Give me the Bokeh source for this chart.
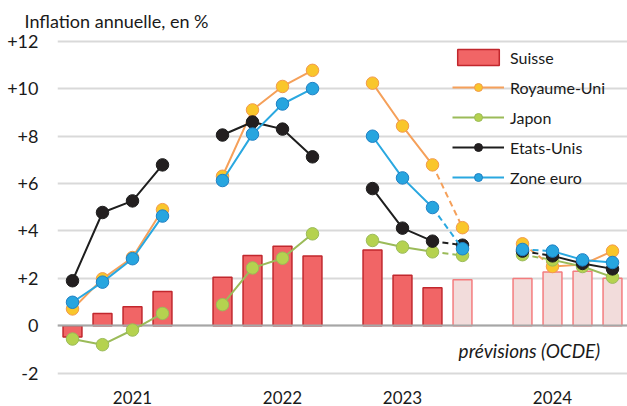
import numpy as np
from bokeh.plotting import figure
from bokeh.models import Range1d, FixedTicker, Legend, LegendItem, Label
from bokeh.embed import file_html
from bokeh.resources import INLINE

# ---------------- data ----------------
years = ["2021", "2022", "2023", "2024"]
year_label_slots = [2, 7, 11, 16]
y_ticks = [-2, 0, 2, 4, 6, 8, 10, 12]
y_tick_labels = ["-2", "0", "+2", "+4", "+6", "+8", "+10", "+12"]
n_actual = 11  # quarters observed; the rest are OECD forecasts

suisse = [-0.47, 0.52, 0.80, 1.45, 2.05, 2.97, 3.36, 2.94, 3.20, 2.13, 1.60, 1.94, 1.99, 2.27, 2.30, 2.00]
royaume_uni = [0.71, 1.98, 2.88, 4.90, 6.31, 9.11, 10.10, 10.78, 10.24, 8.43, 6.79, 4.14, 3.46, 2.50, 2.58, 3.15]
japon = [-0.56, -0.80, -0.18, 0.52, 0.89, 2.44, 2.85, 3.88, 3.60, 3.32, 3.12, 2.97, 3.00, 2.78, 2.50, 2.05]
etats_unis = [1.90, 4.78, 5.27, 6.79, 8.05, 8.60, 8.30, 7.13, 5.79, 4.12, 3.57, 3.40, 3.15, 2.95, 2.63, 2.40]
zone_euro = [0.99, 1.84, 2.83, 4.63, 6.13, 8.09, 9.36, 10.01, 8.00, 6.24, 4.99, 3.25, 3.22, 3.15, 2.78, 2.67]

solid_segments = [[0, 1, 2, 3], [4, 5, 6, 7], [8, 9, 10], [13, 14, 15]]
dashed_segments = [[10, 11], [12, 13]]

FONT = "Lato"
TXT = "#1a1a1a"

# quarter index -> slot on the x axis (one empty slot between years)
slots = [q + q // 4 for q in range(len(suisse))]

p = figure(frame_width=570, frame_height=344,
           x_range=Range1d(-0.5, 18.5), y_range=Range1d(-2.1, 12.42),
           output_backend="svg", toolbar_location=None,
           min_border_left=57, min_border_right=0, min_border_top=31, min_border_bottom=31)
p.outline_line_color = None
p.background_fill_color = "white"
p.border_fill_color = "white"

p.title.text = "Inflation annuelle, en %"
p.title.align = "left"
p.title.offset = -33
p.title.text_font = FONT
p.title.text_font_size = "18px"
p.title.text_font_style = "normal"
p.title.text_color = TXT
p.title.standoff = 0

# axes
p.yaxis.ticker = FixedTicker(ticks=y_ticks)
p.yaxis.major_label_overrides = {t: l for t, l in zip(y_ticks, y_tick_labels)}
p.yaxis.axis_line_color = None
p.yaxis.major_tick_line_color = None
p.yaxis.minor_tick_line_color = None
p.yaxis.major_tick_out = 0
p.yaxis.major_tick_in = 0
p.yaxis.major_label_standoff = 19
p.yaxis.major_label_text_font = FONT
p.yaxis.major_label_text_font_size = "18px"
p.yaxis.major_label_text_color = TXT

p.xaxis.ticker = FixedTicker(ticks=year_label_slots)
p.xaxis.major_label_overrides = {s: y for s, y in zip(year_label_slots, years)}
p.xaxis.axis_line_color = None
p.xaxis.major_tick_line_color = None
p.xaxis.minor_tick_line_color = None
p.xaxis.major_tick_out = 0
p.xaxis.major_tick_in = 0
p.xaxis.major_label_standoff = 15
p.xaxis.major_label_text_font = FONT
p.xaxis.major_label_text_font_size = "17px"
p.xaxis.major_label_text_color = TXT

p.xgrid.visible = False
p.ygrid.ticker = FixedTicker(ticks=y_ticks)
p.ygrid.grid_line_color = "#d9d9d9"
p.ygrid.grid_line_width = 2

# bars
bw = 0.63
bars_act = p.vbar(x=slots[:n_actual], top=suisse[:n_actual], bottom=0, width=bw,
                  fill_color="#f16566", line_color="#c1272d", line_width=1.5)
bars_fc = p.vbar(x=slots[n_actual:], top=suisse[n_actual:], bottom=0, width=bw,
                 fill_color="#f2dcdb", line_color="#f47c7e", line_width=1.5)

p.hspan(y=[0], line_color="#a6a6a6", line_width=2)


def seg_xy(vals, segments):
    xs = [[slots[i] for i in s] for s in segments]
    ys = [[vals[i] for i in s] for s in segments]
    return xs, ys


series = [
    ("Royaume-Uni", royaume_uni, "#f5a05a", "#f9c62b", "#f39a4c"),
    ("Japon", japon, "#9bbb59", "#b5d24f", "#9bbb59"),
    ("Etats-Unis", etats_unis, "#1e1e1e", "#231f20", "#1e1e1e"),
    ("Zone euro", zone_euro, "#2aa8e0", "#27a5df", "#1f80c4"),
]

items = [LegendItem(label="Suisse", renderers=[bars_act])]
for name, vals, lc, mfill, mline in series:
    xs, ys = seg_xy(vals, solid_segments)
    r_solid = p.multi_line(xs, ys, line_color=lc, line_width=2)
    xd, yd = seg_xy(vals, dashed_segments)
    p.multi_line(xd, yd, line_color=lc, line_width=2, line_dash="6 4")
    r_pts = p.scatter(slots, vals, size=12.5, fill_color=mfill, line_color=mline, line_width=1)
    items.append(LegendItem(label=name, renderers=[r_solid, r_pts]))

legend = Legend(items=items, location=(395, 188), orientation="vertical",
                glyph_width=52, glyph_height=20, label_height=20, spacing=10,
                padding=0, margin=0, label_standoff=6,
                label_text_font=FONT, label_text_font_size="16px", label_text_color=TXT,
                border_line_alpha=0, background_fill_alpha=0)
p.add_layout(legend)

p.add_layout(Label(x=12.87, y=-1.05, text="prévisions (OCDE)", text_font=FONT,
                   text_font_size="19px", text_font_style="italic", text_color=TXT,
                   text_baseline="middle", text_align="left"))

open("out.html", "w").write(file_html(p, INLINE))
